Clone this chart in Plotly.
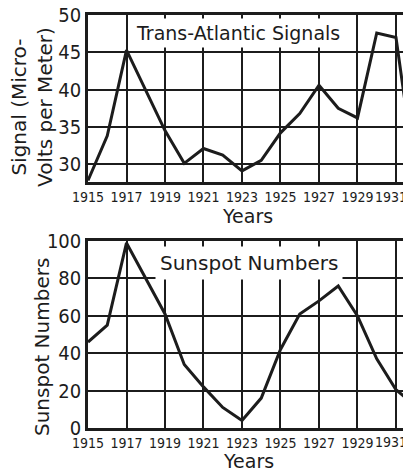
import plotly.graph_objects as go

years = list(range(1915, 1933))
signal = [27.8, 33.8, 45.3, 40.0, 34.5, 30.1, 32.1, 31.2, 29.1, 30.5, 34.2, 36.8,
          40.6, 37.5, 36.2, 47.6, 47.0, 28.5]
sunspots = [46, 55, 99, 80, 61, 34, 22, 11, 4, 16, 42, 61, 68, 76, 60, 37, 20.5, 12]
year_ticks = [1915, 1917, 1919, 1921, 1923, 1925, 1927, 1929, 1931]
signal_ticks = [30, 35, 40, 45, 50]
sunspot_ticks = [0, 20, 40, 60, 80, 100]

INK = "#1c1c1c"
COND = "DejaVu Sans Condensed, Liberation Sans Narrow, sans-serif"
YEAR_FONT = dict(family=COND, size=14, color=INK)
NUM_FONT = dict(family=COND, size=20, color=INK)
LBL_FONT = dict(family="DejaVu Sans, sans-serif", size=20, color=INK)
YEARS_FONT = dict(family="DejaVu Sans, sans-serif", size=19, color=INK)
BOX_FONT = dict(family="DejaVu Sans, sans-serif", size=19, color=INK)

# page body has an 8px margin: figure is laid out so that the window matches the reference
OFF = 8
W, H = 411 - OFF, 473 - OFF
L, R, T, B = 88 - OFF, 0, 15 - OFF, 45
pw, ph = W - L - R, H - T - B

fig = go.Figure()
fig.add_trace(go.Scatter(x=years, y=signal, mode="lines", line=dict(color=INK, width=3),
                         xaxis="x", yaxis="y", showlegend=False, hoverinfo="skip"))
fig.add_trace(go.Scatter(x=years, y=sunspots, mode="lines", line=dict(color=INK, width=3),
                         xaxis="x2", yaxis="y2", showlegend=False, hoverinfo="skip"))

# the last year label sits at the right edge of the window; it is placed as an annotation
last_year = year_ticks[-1]
ticktext = [str(v) if v != last_year else "" for v in year_ticks]

xcommon = dict(range=[1915, 1931.78], tickvals=year_ticks, ticktext=ticktext,
               tickangle=0, showgrid=True, gridcolor=INK, gridwidth=2, showline=True, mirror=True,
               linecolor=INK, linewidth=2.5, ticks="", tickfont=YEAR_FONT, zeroline=False,
               ticklabeloverflow="allow", fixedrange=True)
ycommon = dict(showgrid=True, gridcolor=INK, gridwidth=2, showline=True, mirror=False,
               linecolor=INK, linewidth=2.5, ticks="", tickfont=NUM_FONT, zeroline=False,
               ticklabeloverflow="allow", fixedrange=True)

def ydom(top_px, bot_px):
    return [(H - B - (bot_px - OFF)) / ph, (H - B - (top_px - OFF)) / ph]

fig.update_layout(
    width=W, height=H,
    margin=dict(l=L, r=R, t=T, b=B, autoexpand=False),
    paper_bgcolor="white", plot_bgcolor="white",
    xaxis=dict(domain=[0, 1], anchor="y", **xcommon),
    yaxis=dict(domain=ydom(15, 182), anchor="x", range=[27.6, 50.02], tickvals=signal_ticks, **ycommon),
    xaxis2=dict(domain=[0, 1], anchor="y2", **xcommon),
    yaxis2=dict(domain=ydom(241, 428), anchor="x2", range=[0, 100.05], tickvals=sunspot_ticks, **ycommon),
)

annos = [
    dict(text="Trans-Atlantic Signals", x=1922.8, y=47.6, xref="x", yref="y",
         font=BOX_FONT, bgcolor="white", borderpad=3, showarrow=False),
    dict(text="Sunspot Numbers", x=1923.36, y=88.2, xref="x2", yref="y2",
         font=dict(family="DejaVu Sans, sans-serif", size=20, color=INK),
         bgcolor="white", borderpad=4, showarrow=False),
    dict(text="Years", x=247, y=216, xref="paper", yref="paper", showarrow=False, font=YEARS_FONT),
    dict(text="Years", x=248, y=461, xref="paper", yref="paper", showarrow=False, font=YEARS_FONT),
    dict(text="Signal (Micro-<br>Volts per Meter)", x=32, y=107, textangle=-90, showarrow=False,
         font=LBL_FONT, xref="paper", yref="paper"),
    dict(text="Sunspot Numbers", x=42, y=347, textangle=-90, showarrow=False,
         font=LBL_FONT, xref="paper", yref="paper"),
    dict(text=str(last_year), x=409, y=197, xref="paper", yref="paper", showarrow=False,
         font=YEAR_FONT, xanchor="right"),
    dict(text=str(last_year), x=409, y=442, xref="paper", yref="paper", showarrow=False,
         font=YEAR_FONT, xanchor="right"),
]
for a in annos:
    if a["xref"] == "paper":
        a["x"] = (a["x"] - OFF - L) / pw
        a["y"] = (H - B - (a["y"] - OFF)) / ph
        a.setdefault("xanchor", "center")
        a["yanchor"] = "middle"
fig.update_layout(annotations=annos)

fig.write_html("out.html")
